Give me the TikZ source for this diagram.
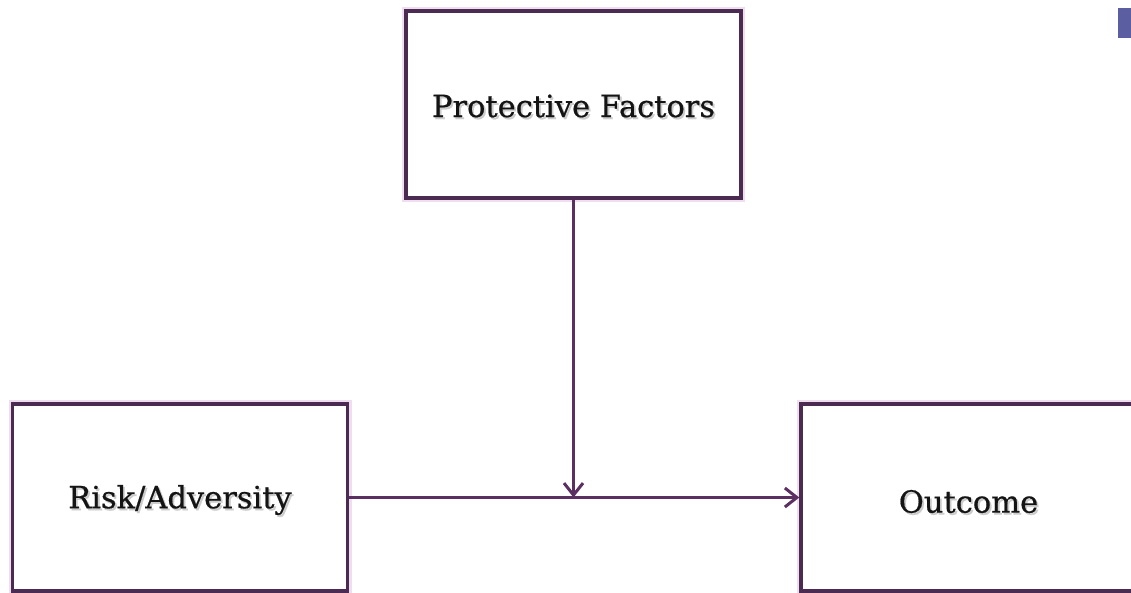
\documentclass[tikz,border=0pt]{standalone}
\usepackage{fontspec}
\setmainfont{DejaVu Serif}[FakeBold=0.6]
\usetikzlibrary{arrows.meta}
\definecolor{boxline}{HTML}{4B2B52}
\definecolor{arrowline}{HTML}{5C2F63}
\definecolor{glow}{HTML}{F1DDF0}
\definecolor{tabblue}{HTML}{5B5EA0}
\tikzset{
  x=1pt, y=1pt,
  factorbox/.style={draw=boxline, line width=3.4pt, fill=white,
    minimum width=335pt, minimum height=187pt, inner sep=0pt,
    preaction={draw=glow, line width=8pt}},
  label/.style={font=\fontsize{30.5}{33}\selectfont, text=black!92},
  shadowtext/.style={font=\fontsize{30.5}{33}\selectfont, text=black!20},
  flow/.style={draw=arrowline, line width=3pt,
    -{Straight Barb[length=12pt,width=19pt,line width=3pt]}}
}
\begin{document}
\begin{tikzpicture}
\useasboundingbox (0,0) rectangle (1131,-592);
\clip (0,0) rectangle (1131,-592);
\fill[white] (0,0) rectangle (1131,-592);
% small tab in the upper right corner
\fill[tabblue] (1118,-8) rectangle (1131,-38);
% the three factor boxes
\node[factorbox] (protect) at (573.5,-104.5) {};
\node[factorbox] (risk) at (180,-497.5) {};
\node[factorbox] (outcome) at (968.5,-497.5) {};
% labels with a soft drop shadow
\node[shadowtext] at ([shift={(1.8,-3.5)}]protect.center) {Protective Factors};
\node[label] (protectlabel) at ([yshift=-1.5]protect.center) {Protective Factors};
\node[shadowtext] at ([shift={(1.8,-4.5)}]risk.center) {Risk/Adversity};
\node[label] (risklabel) at ([yshift=-2.5]risk.center) {Risk/Adversity};
\node[shadowtext] at ([shift={(1.8,-6)}]outcome.center) {Outcome};
\node[label] (outcomelabel) at ([yshift=-4]outcome.center) {Outcome};
% connectors
\coordinate (meet) at (protect.south |- risk.east);
\draw[flow] (risk.east) -- (outcome.west);
\draw[flow] (protect.south) -- (meet);
\end{tikzpicture}
\end{document}
